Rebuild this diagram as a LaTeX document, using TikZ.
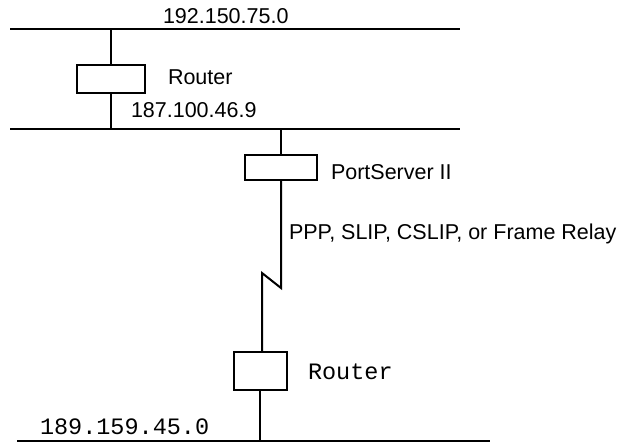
\documentclass[tikz,border=0pt]{standalone}
\usepackage{fontspec}
\setmainfont{Liberation Sans}
\newfontfamily\monofont{Liberation Mono}
\begin{document}
\begin{tikzpicture}[x=1pt,y=-1pt,line width=2pt,
  box/.style={draw,line width=2pt,inner sep=0pt,outer sep=0pt},
  lbl/.style={anchor=base west,inner sep=0pt,font=\fontsize{21.5}{24}\selectfont},
  mlbl/.style={anchor=base west,inner sep=0pt,font=\monofont\fontsize{23.5}{26}\selectfont}]
\useasboundingbox (0,0) rectangle (630,443);
% buses
\coordinate (b1w) at (10,29);  \coordinate (b1e) at (460,29);
\coordinate (b2w) at (10,129); \coordinate (b2e) at (460,129);
\coordinate (b3w) at (17,441); \coordinate (b3e) at (490,441);
\draw (b1w) -- (b1e);
\draw (b2w) -- (b2e);
\draw (b3w) -- (b3e);
% devices
\node[box,minimum width=68pt,minimum height=28pt] (r1) at (111,79) {};
\node[box,minimum width=72pt,minimum height=25pt] (ps) at (281,167.5) {};
\node[box,minimum width=53pt,minimum height=38pt] (r2) at (260,371) {};
% connectors
\draw (r1.north) -- (r1.north |- b1w);
\draw (r1.south) -- (r1.south |- b2w);
\draw (ps.north) -- (ps.north |- b2w);
\coordinate (z1) at (281,288);
\coordinate (z2) at (262,273);
\draw (ps.south) -- (z1) -- (z2) -- (z2 |- r2.north);
\draw (r2.south) -- (r2.south |- b3w);
% labels
\node[lbl] (t1) at (162,24) {192.150.75.0};
\node[lbl] (t2) at (167,85) {Router};
\node[lbl] (t3) at (130,118) {187.100.46.9};
\node[lbl] (t4) at (330,180) {PortServer II};
\node[lbl] (t5) at (288,240) {PPP, SLIP, CSLIP, or Frame Relay};
\node[mlbl] (t6) at (307,380) {Router};
\node[mlbl] (t7) at (39,435) {189.159.45.0};
\end{tikzpicture}
\end{document}
